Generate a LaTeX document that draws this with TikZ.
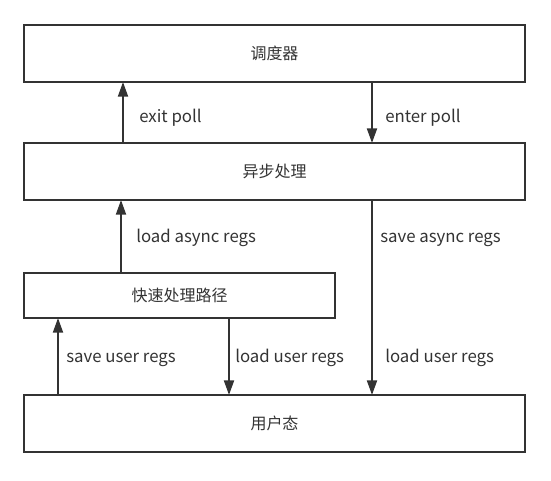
\documentclass[tikz,border=0pt]{standalone}
\usepackage{fontspec}
\setmainfont{Noto Sans CJK SC}
\usetikzlibrary{arrows.meta}

\definecolor{inkgray}{HTML}{333333}

\tikzset{
    stage/.style={draw=inkgray, line width=1.5pt, fill=white, inner sep=0pt, outer sep=0pt,
        text=inkgray, font=\fontsize{12pt}{14pt}\selectfont},
    flow/.style={draw=inkgray, line width=1.5pt, -{Triangle[length=11pt, width=7.5pt]}},
    tag/.style={anchor=west, inner sep=0pt, text=inkgray, text height=9pt, text depth=3pt,
        font=\fontsize{12.6pt}{14pt}\selectfont}
}

\newcommand\stagebox[6]{
    \node[stage, minimum width={(#4-#2)*0.75pt}, minimum height={(#5-#3)*0.75pt}]
        (#1) at ({(#2+#4)/2},{(#3+#5)/2}) {\raisebox{-2pt}{#6}};
}

\begin{document}
\begin{tikzpicture}[x=0.75pt, y=-0.75pt]
    \useasboundingbox (0,0) rectangle (551,480);

    \stagebox{sched}{24}{25}{525}{82}{调度器}
    \stagebox{async}{24}{143}{525}{200}{异步处理}
    \stagebox{quick}{24}{273}{335}{318}{快速处理路径}
    \stagebox{user}{24}{395}{525}{452}{用户态}

    \coordinate (xexit) at (123,0);
    \coordinate (xenter) at (372,0);
    \coordinate (xload) at (121,0);
    \coordinate (xsaveu) at (58,0);
    \coordinate (xloadu) at (229,0);

    \draw[flow] (async.north -| xexit) -- (sched.south -| xexit);
    \draw[flow] (sched.south -| xenter) -- (async.north -| xenter);
    \draw[flow] (quick.north -| xload) -- (async.south -| xload);
    \draw[flow] (async.south -| xenter) -- (user.north -| xenter);
    \draw[flow] (user.north -| xsaveu) -- (quick.south -| xsaveu);
    \draw[flow] (quick.south -| xloadu) -- (user.north -| xloadu);

    \node[tag] (exitlbl) at (139,118) {exit poll};
    \node[tag] (enterlbl) at (385,118) {enter poll};
    \node[tag] (loadalbl) at (136,238) {load async regs};
    \node[tag] (saveallbl) at (380,238) {save async regs};
    \node[tag] (saveulbl) at (66,358) {save user regs};
    \node[tag] (loadulbl) at (235,358) {load user regs};
    \node[tag] (loadu2lbl) at (385,358) {load user regs};

\end{tikzpicture}
\end{document}
